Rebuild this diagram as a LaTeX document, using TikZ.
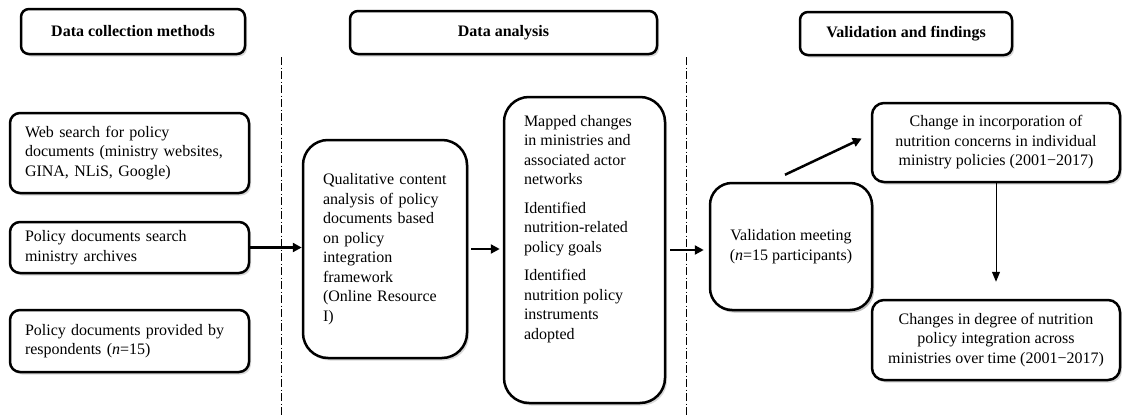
\documentclass[tikz,border=0pt]{standalone}
\usepackage{fontspec}
\setmainfont{Liberation Serif}
\usetikzlibrary{arrows.meta,shadows}
\begin{document}
\begin{tikzpicture}[x=1pt,y=-1pt,
  every node/.style={font=\fontsize{16}{19.5}\selectfont},
  box/.style={draw, line width=2.5pt, rounded corners=#1, fill=white,
    drop shadow={shadow xshift=2pt, shadow yshift=-2.5pt, opacity=0.3}},
  box/.default=10pt,
  hdr/.style={box=8pt, font=\bfseries\fontsize{16}{19.5}\selectfont},
  leftbox/.style={box=10pt, text width=209pt, inner xsep=15pt, align=left},
  centbox/.style={box=12pt, align=center, inner sep=2pt},
  arr/.style={line width=2.5pt, -{Triangle[length=9pt,width=9pt]}},
  thinarr/.style={line width=1pt, -{Triangle[length=10pt,width=8pt]}},
  divider/.style={line width=0.8pt, dash pattern=on 8pt off 2.5pt on 1pt off 2.5pt}
]
\useasboundingbox (0,0) rectangle (1122,415);

% column dividers
\draw[divider] (281,57) -- (281,415);
\draw[divider] (686,57) -- (686,415);

% headers
\node[hdr, minimum width=224, minimum height=45] (h1) at (133,31.5) {Data collection methods};
\node[hdr, minimum width=307, minimum height=43] (h2) at (503.5,32.5) {Data analysis};
\node[hdr, minimum width=212, minimum height=43] (h3) at (906,33.5) {Validation and findings};

% data collection
\node[leftbox, minimum height=80] (web) at (129.5,153)
  {Web search for policy\\documents (ministry websites,\\GINA, NLiS, Google)};
\node[leftbox, minimum height=51] (arch) at (129.5,247.5)
  {Policy documents search\\ministry archives};
\node[leftbox, minimum height=62] (resp) at (129.5,341)
  {Policy documents provided by\\respondents (\textit{n}=15)};

% data analysis
\node[box=25pt, text width=124pt, inner xsep=20pt, align=left, minimum height=218] (qual) at (385,249)
  {Qualitative content\\analysis of policy\\documents based\\on policy\\integration\\framework\\(Online Resource\\I)};
\node[box=25pt, inner xsep=20pt, inner ysep=0pt, minimum height=306, minimum width=161] (map) at (584.5,250)
  {\begin{minipage}[c][270pt][t]{121pt}\raggedright
   Mapped changes\\in ministries and\\associated actor\\networks\\[9pt]
   Identified\\nutrition-related\\policy goals\\[9pt]
   Identified\\nutrition policy\\instruments\\adopted
   \end{minipage}};

% validation and findings
\node[centbox, box=22pt, minimum width=162, minimum height=127] (val) at (791,246.5)
  {\raisebox{4pt}{\begin{tabular}{@{}c@{}}Validation meeting\\(\textit{n}=15 participants)\end{tabular}}};
\node[centbox, minimum width=248, minimum height=79] (chg) at (996,142.5)
  {Change in incorporation of\\nutrition concerns  in individual\\ministry policies (2001−2017)};
\node[centbox, minimum width=248, minimum height=80] (deg) at (996,340)
  {Changes in degree of nutrition\\policy integration across\\ministries over time (2001−2017)};

% connectors
\draw[arr] (arch.east) -- (arch.east -| qual.west);
\draw[arr, shorten <=3pt, shorten >=3pt] (qual.east) -- (qual.east -| map.west);
\draw[arr, shorten <=4pt, shorten >=5pt] (map.east) -- (map.east -| val.west);
\draw[arr] ([xshift=-6pt,yshift=7pt]val.north) -- ([xshift=-9pt,yshift=4pt]chg.west);
\draw[thinarr, shorten >=17pt] (chg.south) -- (deg.north);
\end{tikzpicture}
\end{document}
